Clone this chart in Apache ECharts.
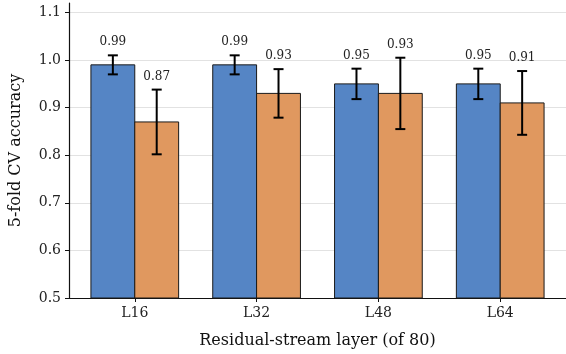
<!DOCTYPE html>
<html>
<head>
<meta charset="utf-8">
<script src="https://cdn.jsdelivr.net/npm/echarts@6/dist/echarts.min.js"></script>
<style>
html, body { margin: 0; padding: 0; background: #fff; }
#chart { width: 566px; height: 354px; }
</style>
</head>
<body>
<div id="chart"></div>
<script>
// layers and accuracies (mean +/- err)
var layers = ['L16', 'L32', 'L48', 'L64'];
var blueVals = [0.99, 0.99, 0.95, 0.95];
var blueErr = [0.02, 0.02, 0.032, 0.032];
var orangeVals = [0.87, 0.93, 0.93, 0.91];
var orangeErr = [0.068, 0.051, 0.075, 0.067];
var yTicks = [0.5, 0.6, 0.7, 0.8, 0.9, 1.0, 1.1];
var xTicks = [0, 1, 2, 3];

var FONT = 'DejaVu Serif';
var BAR_W = 0.36;
var Y_MIN = 0.5;

function makeRows(vals, errs) {
    return vals.map(function (v, i) { return [i, v, errs[i]]; });
}

function barRenderer(offset, color) {
    return function (params, api) {
        var x = api.value(0) + offset;
        var v = api.value(1);
        var e = api.value(2);
        var tl = api.coord([x - BAR_W / 2, v]);
        var br = api.coord([x + BAR_W / 2, Y_MIN]);
        var c = api.coord([x, v]);
        var hi = api.coord([x, v + e]);
        var lo = api.coord([x, v - e]);
        var cap = 5;
        return {
            type: 'group',
            children: [
                {
                    type: 'rect',
                    shape: { x: tl[0], y: tl[1], width: br[0] - tl[0], height: br[1] - tl[1] },
                    style: { fill: color, stroke: '#1a1a1a', lineWidth: 1 }
                },
                {
                    type: 'line',
                    shape: { x1: c[0], y1: hi[1], x2: c[0], y2: lo[1] },
                    style: { stroke: '#000', lineWidth: 2 }
                },
                {
                    type: 'line',
                    shape: { x1: c[0] - cap, y1: hi[1], x2: c[0] + cap, y2: hi[1] },
                    style: { stroke: '#000', lineWidth: 2 }
                },
                {
                    type: 'line',
                    shape: { x1: c[0] - cap, y1: lo[1], x2: c[0] + cap, y2: lo[1] },
                    style: { stroke: '#000', lineWidth: 2 }
                },
                {
                    type: 'text',
                    style: {
                        x: c[0], y: hi[1] - 7,
                        text: v.toFixed(2),
                        fill: '#222', font: '12px "' + FONT + '"',
                        align: 'center', verticalAlign: 'bottom'
                    }
                }
            ]
        };
    };
}

var option = {
    animation: false,
    grid: { left: 68, right: 0, top: 3, bottom: 55 },
    xAxis: {
        type: 'value',
        min: -0.54,
        max: 3.54,
        name: 'Residual-stream layer (of 80)',
        nameLocation: 'middle',
        nameGap: 35,
        nameTextStyle: { fontFamily: FONT, fontSize: 16, color: '#111' },
        axisLine: { show: true, onZero: false, lineStyle: { color: '#111', width: 1.2 } },
        axisTick: { show: true, length: 4, customValues: xTicks, lineStyle: { color: '#111' } },
        axisLabel: {
            customValues: xTicks,
            fontFamily: FONT, fontSize: 14, color: '#222', margin: 8,
            formatter: function (v) { return layers[Math.round(v)]; }
        },
        splitLine: { show: false }
    },
    yAxis: {
        type: 'value',
        min: Y_MIN,
        max: 1.12,
        interval: 0.1,
        name: '5-fold CV accuracy',
        nameLocation: 'middle',
        nameGap: 45,
        nameTextStyle: { fontFamily: FONT, fontSize: 16, color: '#111' },
        axisLine: { show: true, onZero: false, lineStyle: { color: '#111', width: 1.2 } },
        axisTick: { show: true, length: 4, customValues: yTicks, lineStyle: { color: '#111' } },
        axisLabel: {
            customValues: yTicks,
            fontFamily: FONT, fontSize: 14, color: '#222', margin: 8,
            formatter: function (v) { return v.toFixed(1); }
        },
        splitLine: { show: true, lineStyle: { color: '#e2e2e2', width: 1 } }
    },
    series: [
        {
            type: 'custom',
            data: makeRows(blueVals, blueErr),
            renderItem: barRenderer(-BAR_W / 2, '#5585c5')
        },
        {
            type: 'custom',
            data: makeRows(orangeVals, orangeErr),
            renderItem: barRenderer(BAR_W / 2, '#e0985f')
        }
    ]
};

var myChart = echarts.init(document.getElementById('chart'));
myChart.setOption(option);
</script>
</body>
</html>
